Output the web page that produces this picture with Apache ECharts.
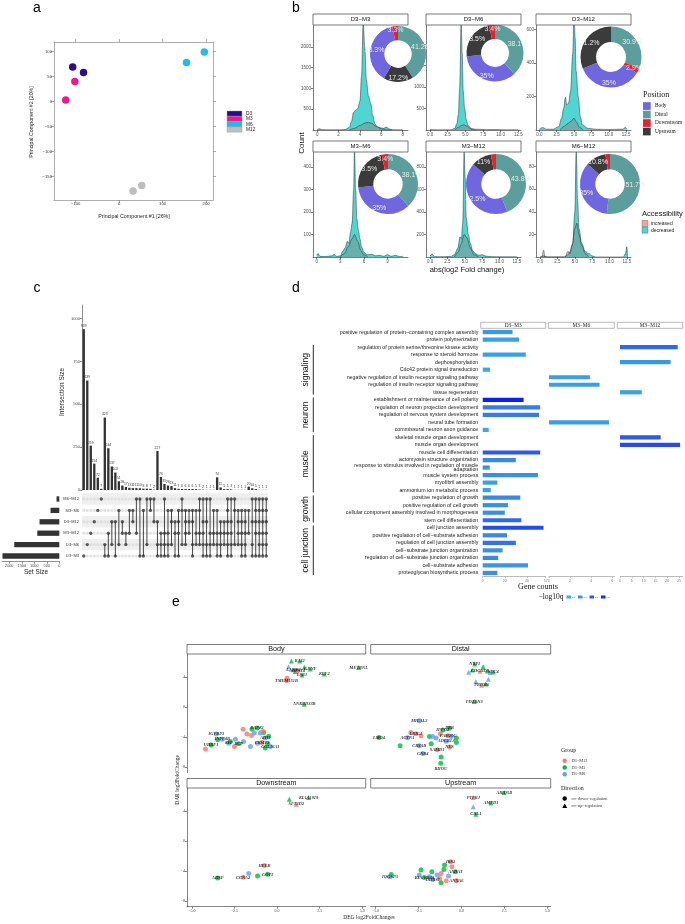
<!DOCTYPE html>
<html><head><meta charset="utf-8">
<script src="https://cdn.jsdelivr.net/npm/echarts@6/dist/echarts.min.js"></script>
<style>html,body{margin:0;padding:0;background:#fff}#c{width:685px;height:924px}</style>
</head><body><div id="c"></div>
<script>
// ================= DATA =================
// Panel a (PCA)
const pcaGroups=['D3','M3','M6','M12'];
const pcaPC1=[-107,-82,-102,-123,155,196,32,52];
const pcaPC2=[69,58,40,3,78,99,-179,-168];
const pcaGroupOf=['D3','D3','M3','M3','M6','M6','M12','M12'];

// Panel b (densities + donuts)
const densFacets=['D3−M3','D3−M6','D3−M12','M3−M6','M3−M12','M6−M12'];
const decD3M3=[[0,15],[0.2,30],[0.45,8],[1,4],[2,4],[2.6,10],[3.0,60],[3.2,200],[3.4,420],[3.6,480],[3.8,520],[4.0,700],[4.15,1300],[4.3,2600],[4.45,2000],[4.6,1200],[4.8,820],[5.0,650],[5.2,350],[5.4,150],[5.6,80],[5.9,55],[6.2,40],[6.5,70],[6.7,30],[7.0,8],[7.5,4],[8,2]];
const incD3M3=[[3.0,0],[3.5,40],[4.0,110],[4.5,170],[4.8,185],[5.1,160],[5.5,90],[6.0,30],[6.5,5],[7,0]];
const decD3M6=[[0,15],[0.3,8],[1,3],[2,3],[3,5],[3.5,40],[3.8,150],[4.0,350],[4.2,1000],[4.4,2500],[4.55,1800],[4.7,900],[4.9,500],[5.1,250],[5.4,100],[5.8,40],[6.3,20],[7,15],[8,8],[9,10],[10,5],[12,3],[12.5,8]];
const incD3M6=[[3.5,0],[4.0,60],[4.5,110],[4.8,120],[5.2,90],[5.6,40],[6.0,10],[6.5,0]];
const decD3M12=[[0,5],[0.5,15],[1,5],[2,5],[2.8,20],[3.2,70],[3.5,130],[3.75,195],[3.95,150],[4.2,160],[4.5,230],[4.8,450],[5.0,700],[5.15,550],[5.3,350],[5.6,200],[5.9,80],[6.2,30],[7,10],[8,5],[10,3],[12,5],[12.4,15],[12.6,3]];
const incD3M12=[[3.0,0],[3.5,20],[4.0,35],[4.5,50],[5.0,70],[5.3,50],[5.8,15],[6.3,0]];
const decM3M6=[[0,8],[0.2,15],[0.4,3],[1,2],[2.0,5],[2.2,12],[2.5,3],[3.0,5],[3.3,25],[3.6,40],[3.9,70],[4.1,60],[4.3,110],[4.5,150],[4.7,300],[4.8,480],[4.95,300],[5.1,170],[5.3,120],[5.5,80],[5.7,45],[6.0,20],[6.5,10],[7.0,12],[7.5,5],[8,8],[8.5,3],[9,10],[9.5,3],[10,8],[10.5,2],[11,3]];
const incM3M6=[[3.0,0],[3.5,15],[4.0,45],[4.5,80],[4.8,100],[5.2,70],[5.6,30],[6.0,10],[6.5,0]];
const decM3M12=[[0,10],[0.3,25],[0.6,5],[1,3],[2,3],[3,5],[3.5,20],[4.0,80],[4.3,180],[4.5,160],[4.7,300],[4.9,940],[5.05,700],[5.2,350],[5.5,200],[5.8,120],[6.1,60],[6.5,30],[7,15],[7.5,20],[8,8],[8.5,5],[9,3],[10,2],[12,2],[12.5,3]];
const incM3M12=[[3.5,0],[4.0,40],[4.5,120],[4.9,200],[5.3,170],[5.8,80],[6.3,20],[7,0]];
const decM6M12=[[0,0],[0.5,1],[1,0],[3.5,0],[4,2],[4.3,5],[4.7,12],[5.0,40],[5.2,95],[5.4,50],[5.6,25],[6.0,12],[6.5,5],[7.0,3],[7.5,1],[8,0],[12,0],[12.3,3],[12.5,9],[12.6,0]];
const incM6M12=[[0.3,0],[0.5,6],[0.7,0],[3.6,0],[4.0,5],[4.3,3],[4.6,10],[5.0,25],[5.3,30],[5.6,20],[6.0,10],[6.5,3],[7,0]];
const decList=[decD3M3,decD3M6,decD3M12,decM3M6,decM3M12,decM6M12];
const incList=[incD3M3,incD3M6,incD3M12,incM3M6,incM3M12,incM6M12];
const positions=['Body','Distal','Downstream','Upstream'];
const pieD3M3=[['Distal',41.2],['Upstream',17.2],['Body',38.3],['Downstream',3.3]];
const pieD3M6=[['Distal',38.1],['Body',35],['Upstream',23.5],['Downstream',3.4]];
const pieD3M12=[['Distal',30.9],['Downstream',2.9],['Body',35],['Upstream',31.2]];
const pieM3M6=[['Distal',38.1],['Body',35],['Upstream',23.5],['Downstream',3.4]];
const pieM3M12=[['Distal',43.8],['Body',42.5],['Upstream',11],['Downstream',2.7]];
const pieM6M12=[['Distal',51.7],['Body',35],['Upstream',10.8],['Downstream',2.5]];
const pieList=[pieD3M3,pieD3M6,pieD3M12,pieM3M6,pieM3M12,pieM6M12];

// Panel c (UpSet)
const setNames=['M6−M12','M3−M6','D3−M12','M3−M12','D3−M6','D3−M3'];
const setSizes=[110,350,790,880,1800,2270];
const setSizeTicks=[0,500,1000,1500,2000];
const interTicks=[0,250,500,750,1000];
const interSizes=[939,639,259,154,72,7,423,244,137,102,51,26,17,13,11,11,10,8,8,7,2,227,76,35,26,23,11,7,6,6,6,6,5,3,2,1,1,1,74,15,5,5,3,1,1,1,1,20,10,5,1,1,1];
const interSets=[[5],[4],[3],[2],[1],[0],[4,5],[3,5],[2,4],[2,5],[1,4],[2,3],[3,4],[1,3],[1,2],[0,3],[0,5],[1,5],[0,4],[0,1],[0,2],
 [2,4,5],[3,4,5],[0,3,4,5],[1,3,4,5],[1,2,4],[2,3,5],[1,2,3,5],[0,1,4],[1,2,3,4],[1,2,3],[1,2,4,5],[1,3,4],[0,1,3,4],[0,2,3,4,5],[0,2,4,5],[0,3,4,5],[1,3,4],
 [1,3,4,5],[2,3,4,5],[2,3,4],[0,1,2,3,4,5],[0,2,3,4,5],[0,1,4],[1,2,3,4],[1,2,3,4,5],[1,2,3,4,5],[1,3],[0,2,4,5],[0,1,2,3,5],[0,1,2,3,4,5],[0,1,2,3,4,5],[0,1,2,3,4,5]];

// Panel d (GO terms)
const goTerms=['positive regulation of protein−containing complex assembly','protein polymerization','regulation of protein serine/threonine kinase activity','response to steroid hormone','dephosphorylation','Cdc42 protein signal transduction','negative regulation of insulin receptor signaling pathway','regulation of insulin receptor signaling pathway','tissue regeneration','establishment or maintenance of cell polarity','regulation of neuron projection development','regulation of nervous system development','neural tube formation','commissural neuron axon guidance','skeletal muscle organ development','muscle organ development','muscle cell differentiation','actomyosin structure organization','response to stimulus involved in regulation of muscle\nadaptation','muscle system process','myofibril assembly','ammonium ion metabolic process','positive regulation of growth','positive regulation of cell growth','cellular component assembly involved in morphogenesis','stem cell differentiation','cell junction assembly','positive regulation of cell−substrate adhesion','regulation of cell junction assembly','cell−substrate junction organization','regulation of cell−substrate junction organization','cell−substrate adhesion','proteoglycan biosynthetic process'];
const goFacets=['D3−M3','M3−M6','M3−M12'];
const goD3M3=[27,33,null,39,null,6.7,null,null,null,37,52,51,null,5.5,null,null,52,30,6.4,50,13.3,7.3,34,23,20,35,55,22,30,18,14,41,13.3];
const qD3M3=[4.5,4,null,4,null,3.5,null,null,null,9.5,6,6,null,3.5,null,null,7.5,5.5,5,5,4,4,5.5,5,5,6.8,8,5.5,6.5,5,5.5,4.5,5];
const goM3M6=[null,null,null,null,null,null,3.9,4.8,null,null,null,null,5.7,null,null,null,null,null,null,null,null,null,null,null,null,null,null,null,null,null,null,null,null];
const qM3M6=[null,null,null,null,null,null,4,4,null,null,null,null,4.2,null,null,null,null,null,null,null,null,null,null,null,null,null,null,null,null,null,null,null,null];
const goM3M12=[null,null,24.4,null,21.4,null,null,null,9.2,null,null,null,null,null,17.2,25.4,null,null,null,null,null,null,null,null,null,null,null,null,null,null,null,null,null];
const qM3M12=[null,null,7,null,4.5,null,null,null,4,null,null,null,null,null,7.5,8,null,null,null,null,null,null,null,null,null,null,null,null,null,null,null,null,null];
const goGroups=[['signaling',2,8],['neuron',9,13],['muscle',14,21],['growth',22,25],['cell junction',26,32]];
const qLegend=[3.5,5.0,7.5,9.0];

// Panel e (DEG vs DAR) rows: [DEG log2FC, DAR log2FC, group(0=D3−M12,1=D3−M3,2=D3−M6), up(1)/down(0), label]
const eGroups=['D3−M12','D3−M3','D3−M6'];
const eBody=[
 [0.84,6.17,1,1,''],[1.33,6.17,1,1,'RAI2'],[0.68,5.4,2,1,''],[1.6,5.33,1,1,''],[0.97,5.0,2,1,'LAMB2'],[1.07,4.75,1,1,''],[1.17,4.84,0,0,'AGPAT4'],[1.46,4.3,1,1,'ESR1'],
 [1.95,5.1,1,1,'GDNF'],[2.77,4.44,1,1,'KLF2'],[4.79,5.28,1,1,'METRNL'],[0.59,3.87,0,0,''],[0.55,3.55,0,0,'TMEM151B'],[1.6,0.4,1,1,'ANKRD33B'],
 [-4.2,-5.6,0,0,''],[-3.87,-5.07,1,0,'UHRF1'],[-3.56,-3.6,2,0,'IGFBP3'],[-3.48,-4.36,1,0,''],[-3.22,-4.28,2,0,'INPP4B'],[-2.84,-4.82,2,0,'KIT'],[-2.74,-4.6,1,0,''],
 [-2.44,-4.28,2,0,''],[-2.5,-5.25,0,0,''],[-2.25,-4.9,1,0,'KCP'],[-1.96,-4.6,2,0,''],[-1.99,-2.95,0,0,''],[-1.76,-3.6,0,0,''],[-1.5,-3.8,0,0,''],
 [-1.47,-2.95,1,0,''],[-1.17,-2.8,1,0,'DAPK1'],[-1.33,-3.47,2,0,''],[-0.98,-3.47,2,0,''],[-0.78,-3.38,1,0,''],[-0.82,-3.24,0,0,''],[-0.69,-4.13,2,0,'AHI1'],
 [-0.49,-3.9,1,0,''],[-1.14,-4.82,2,0,''],[-0.88,-4.73,0,0,'CKMT2'],[-0.55,-4.9,1,0,''],[-0.39,-5.25,2,0,'COL16A1'],[-0.69,-5.47,1,0,''],[-1.56,-5.25,2,0,'']];
const eDistal=[
 [0.78,5.77,1,1,'NRP1'],[1.27,5.4,1,1,''],[0.43,4.65,2,1,''],[0.63,4.97,1,1,''],[1.08,4.8,0,1,'CHCHD3'],[1.51,4.84,1,1,''],[1.67,4.62,2,1,''],[1.86,4.71,1,1,'SDC4'],
 [0.84,3.42,2,1,''],[1.57,3.73,2,1,''],[1.41,3.1,1,1,''],[1.18,2.93,0,1,'PRDM6'],[0.75,0.75,1,1,'PDZRN3'],
 [-2.45,-1.83,2,0,'MICAL2'],[-4.8,-4.05,1,0,'LMO4'],[-2.94,-3.39,0,0,''],[-2.65,-3.57,0,0,'LRIG1'],[-2.35,-3.83,0,0,''],[-3.14,-4.1,2,0,'ACTN1'],[-3.57,-5.16,1,0,''],
 [-2.45,-5.16,2,0,'CRYAB'],[-1.86,-3.91,1,0,''],[-1.67,-3.91,2,0,''],[-1.76,-4.89,1,0,''],[-1.47,-4.13,2,0,''],[-1.22,-3.57,0,0,''],[-1.08,-3.04,1,0,'IFFO2'],
 [-0.78,-3.83,0,0,'FAM20C'],[-0.69,-2.81,1,0,'PRR'],[-0.59,-3.91,2,0,''],[-0.29,-4.13,1,0,''],[-0.88,-4.57,2,0,'ADGRL3'],[-0.69,-5.33,0,0,'NES'],[-0.29,-4.71,1,0,''],
 [-1.41,-5.69,0,0,'SAMD1'],[-1.18,-6.67,1,0,''],[-2.25,-6.2,2,0,'GNB4'],[-1.2,-7.5,1,0,'RHOU']];
const eDown=[
 [0.72,5.6,1,1,''],[1.85,5.82,1,1,'KIAA1919'],[1.13,4.93,0,1,'SFT2D2'],[-0.74,-3.24,0,0,'HELB'],[-1.66,-4.31,2,0,''],[-1.14,-4.67,1,0,''],[-0.55,-4.44,1,0,'GOT1'],
 [-1.99,-4.84,0,0,'CCNA2'],[-3.48,-4.93,1,0,'AHSP']];
const eUp=[
 [2.49,6.49,1,1,'ARID5B'],[0.69,5.82,0,1,'PTPRJ'],[1.72,5.1,1,1,'AMPD1'],[0.69,4.58,2,1,''],[0.84,3.6,1,1,'CHL1'],
 [-4.16,-4.76,2,0,'IQGAP3'],[-4.08,-4.45,1,0,''],[-2.35,-3.87,1,0,''],[-2.16,-4.85,1,0,'KIAA0930'],[-2.45,-4.53,2,0,''],[-1.86,-4.76,2,0,''],[-1.72,-4.09,1,0,''],
 [-1.67,-5.11,2,0,'DHRS7'],[-1.41,-4.53,2,0,''],[-1.27,-4.98,0,0,''],[-1.18,-4.31,0,0,''],[-1.02,-3.78,1,0,''],[-0.63,-2.76,0,0,'IRS2'],[-0.55,-3.42,0,0,''],
 [-0.35,-4.09,1,0,'AADAT'],[-0.88,-5.29,0,0,''],[-1.18,-5.56,1,0,''],[-0.29,-5.29,0,0,'ANXA6'],[-0.75,-4.67,2,0,''],[-0.98,-3.2,1,0,'']];
const ePanels=['Body','Distal','Downstream','Upstream'];
const eData=[eBody,eDistal,eDown,eUp];

// ================= STYLE / LAYOUT =================
const SANS='"Liberation Sans", Arial, sans-serif';
const SERIF='"Liberation Serif", "Times New Roman", serif';
const pcaColors={D3:'#2E0B8C',M3:'#EC1A8C',M6:'#1CBCEC',M12:'#BEBEBE'};
const posColors={Body:'#7066E0',Distal:'#5C9E9C',Downstream:'#E3232D',Upstream:'#3B3B3B'};
const eColors=['#F8766D','#00BA38','#619CFF'];
const MINUS=v=>String(v).replace('-','−');

const grids=[],xAxes=[],yAxes=[],series=[],graphics=[];
function isObj(o){return o!==null&&typeof o==='object'&&!Array.isArray(o);}
function merge(a,b){for(const k in b){const bv=b[k];if(isObj(bv)){if(!isObj(a[k]))a[k]={};merge(a[k],bv);}else a[k]=bv;}return a;}
function addGrid(r){grids.push(Object.assign({containLabel:false,outerBoundsMode:'none',show:false},r));return grids.length-1;}
function addX(o){xAxes.push(o);return xAxes.length-1;}
function addY(o){yAxes.push(o);return yAxes.length-1;}
function val(extra){return merge({type:'value',splitLine:{show:false},axisLine:{show:true,onZero:false,lineStyle:{color:'#222',width:0.6}},axisTick:{show:true,length:2,lineStyle:{color:'#222',width:0.6}},axisLabel:{fontSize:4.5,color:'#4d4d4d',fontFamily:SANS,margin:2}},extra||{});}
function ticks(arr,fmt){return {axisLabel:{customValues:arr,formatter:fmt||MINUS},axisTick:{customValues:arr}};}
function txt(x,y,s,font,o){o=o||{};graphics.push({type:'text',x:x,y:y,z:100,silent:true,rotation:o.rot||0,style:{text:s,font:font,fill:o.fill||'#000',align:o.align||'center',verticalAlign:o.va||'middle',lineHeight:o.lh}});}
function rect(x,y,w,h,fill,stroke,lw){graphics.push({type:'rect',z:90,silent:true,shape:{x:x,y:y,width:w,height:h},style:{fill:fill,stroke:stroke,lineWidth:lw==null?0.7:lw}});}
function line(x1,y1,x2,y2,c,w){graphics.push({type:'line',z:90,silent:true,shape:{x1:x1,y1:y1,x2:x2,y2:y2},style:{stroke:c||'#000',lineWidth:w||1}});}

// panel letters
txt(37,8,'a','14px '+SANS);txt(296,8,'b','14px '+SANS);txt(37,288,'c','14px '+SANS);txt(296,288,'d','14px '+SANS);txt(176,602,'e','14px '+SANS);

// ---------- Panel a ----------
(function(){
 const g=addGrid({left:54,top:42,width:159,height:158});
 const ac=()=>({axisLine:{lineStyle:{color:'#777'}},axisTick:{length:3,lineStyle:{color:'#777'}},axisLabel:{fontSize:4.2,color:'#333'}});
 const xt=[-100,0,100,200],yt=[-150,-100,-50,0,50,100];
 const xi=addX(val(merge(merge({gridIndex:g,min:-150,max:216},ac()),ticks(xt))));
 addX(val(merge(merge({gridIndex:g,min:-150,max:216,position:'top'},ac()),merge(ticks(xt),{axisLabel:{show:false}}))));
 const yi=addY(val(merge(merge({gridIndex:g,min:-197,max:119,position:'left'},ac()),ticks(yt))));
 addY(val(merge(merge({gridIndex:g,min:-197,max:119,position:'right'},ac()),merge(ticks(yt),{axisLabel:{show:false}}))));
 pcaGroups.forEach(gr=>{
  series.push({type:'scatter',xAxisIndex:xi,yAxisIndex:yi,symbolSize:7.5,itemStyle:{color:pcaColors[gr],opacity:1},
   data:pcaPC1.map((x,i)=>[x,pcaPC2[i],pcaGroupOf[i]]).filter(d=>d[2]===gr).map(d=>[d[0],d[1]])});
 });
 txt(134,217,'Principal Component #1 [26%]','5.3px '+SANS,{fill:'#222'});
 txt(32,122,'Principal Component #2 [20%]','5.3px '+SANS,{fill:'#222',rot:Math.PI/2});
 pcaGroups.forEach((gr,i)=>{rect(227,111+i*5.3,15,5.3,pcaColors[gr],'#999',0.4);txt(246,113.6+i*5.3,gr,'4.8px '+SANS,{align:'left',fill:'#222'});});
})();

// ---------- Panel b ----------
const bLayout=[
 {left:313,top:25,xmin:-0.4,xmax:8.5,xt:[0,2,4,6,8],d:0,ymax:2530,yt:[500,1000,1500,2000],pie:[398,54,28]},
 {left:426,top:25,xmin:-0.57,xmax:12.87,xt:[0,2.5,5,7.5,10,12.5],d:1,ymax:2450,yt:[500,1000,1500,2000],pie:[495,53,28.5]},
 {left:536,top:25,xmin:-0.48,xmax:13.2,xt:[0,2.5,5,7.5,10,12.5],d:1,ymax:626,yt:[200,400,600],pie:[611,57,30.5]},
 {left:313,top:152,xmin:-0.47,xmax:11.6,xt:[0,3,6,9],d:0,ymax:466,yt:[100,200,300,400],pie:[388,184,30]},
 {left:426,top:152,xmin:-0.6,xmax:13.1,xt:[0,2.5,5,7.5,10,12.5],d:1,ymax:933,yt:[200,400,600,800],pie:[496,184,30]},
 {left:536,top:152,xmin:-0.6,xmax:13.1,xt:[0,2.5,5,7.5,10,12.5],d:1,ymax:93,yt:[20,40,60,80],pie:[610,184,30]}];
bLayout.forEach((L,i)=>{
 const g=addGrid({left:L.left,top:L.top,width:95,height:105});
 const xi=addX(val(merge({gridIndex:g,min:L.xmin,max:L.xmax},ticks(L.xt,v=>MINUS(Number(v).toFixed(L.d))))));
 const yi=addY(val(merge({gridIndex:g,min:0,max:L.ymax},ticks(L.yt))));
 series.push({type:'line',xAxisIndex:xi,yAxisIndex:yi,data:decList[i],smooth:0.35,smoothMonotone:'x',symbol:'none',clip:true,
  lineStyle:{color:'#2a2a2a',width:0.5},areaStyle:{color:'#4FD6D3',opacity:1},z:2});
 series.push({type:'line',xAxisIndex:xi,yAxisIndex:yi,data:incList[i],smooth:0.35,smoothMonotone:'x',symbol:'none',clip:true,
  lineStyle:{color:'#2a2a2a',width:0.5},areaStyle:{color:'rgba(160,95,90,0.45)'},z:3});
 rect(L.left,L.top-11,95,11,'#fff','#555',0.8);
 txt(L.left+47.5,L.top-5.5,densFacets[i],'6px '+SANS,{fill:'#111'});
 series.push({type:'pie',center:[L.pie[0],L.pie[1]],radius:[L.pie[2]*0.49,L.pie[2]],startAngle:90,clockwise:true,silent:true,z:5,
  label:{show:true,position:'inside',formatter:'{c}%',color:'#eaeaea',fontSize:7,fontFamily:SANS},labelLine:{show:false},
  itemStyle:{borderWidth:0},
  data:pieList[i].map(d=>({name:d[0],value:d[1],itemStyle:{color:posColors[d[0]]}}))});
});
txt(302,143,'Count','8px '+SANS,{rot:Math.PI/2,fill:'#111'});
txt(467,270,'abs(log2 Fold change)','7.5px '+SANS,{fill:'#111'});
txt(643,95,'Position','8px '+SERIF,{align:'left',fill:'#111'});
positions.forEach((p,i)=>{rect(643,102.2+i*8.5,7.7,7.7,posColors[p],null,0);txt(655,106+i*8.5,p,'5.3px '+SERIF,{align:'left',fill:'#111'});});
txt(642,214,'Accessibility','7.5px '+SANS,{align:'left',fill:'#111'});
rect(642,220.5,6,6,'#F4A39D','#555',0.4);txt(651,223.5,'increased','5px '+SANS,{align:'left',fill:'#222'});
rect(642,227.2,6,6,'#4FD6D3','#555',0.4);txt(651,230.2,'decreased','5px '+SANS,{align:'left',fill:'#222'});

// ---------- Panel c (UpSet) ----------
(function(){
 const cats=interSizes.map((_,i)=>String(i));
 const g1=addGrid({left:82,top:305,width:186,height:185});
 const x1=addX({type:'category',gridIndex:g1,data:cats,show:false});
 const y1=addY(val(merge({gridIndex:g1,min:0,max:1080,axisLabel:{fontSize:4,color:'#444'},axisLine:{lineStyle:{color:'#444'}},axisTick:{lineStyle:{color:'#444'}}},ticks(interTicks))));
 series.push({type:'bar',xAxisIndex:x1,yAxisIndex:y1,data:interSizes,barWidth:'66%',itemStyle:{color:'#333'},
  label:{show:true,position:'top',distance:1.5,fontSize:3.4,color:'#333',fontFamily:SANS}});
 const g2=addGrid({left:82,top:493.3,width:186,height:68.4});
 const x2=addX({type:'category',gridIndex:g2,data:cats,show:false});
 const y2=addY({type:'category',gridIndex:g2,data:setNames,inverse:true,axisLine:{show:false},axisTick:{show:false},
  axisLabel:{fontSize:4,color:'#333',fontFamily:SANS,margin:3},splitArea:{show:true,areaStyle:{color:['rgba(225,225,225,0.55)','rgba(255,255,255,0)']}}});
 const bg=[],fg=[],con=[];
 interSets.forEach((s,c)=>{for(let r=0;r<setNames.length;r++){(s.indexOf(r)>=0?fg:bg).push([c,r]);}
  con.push([c,Math.min.apply(null,s),Math.max.apply(null,s)]);});
 series.push({type:'scatter',xAxisIndex:x2,yAxisIndex:y2,data:bg,symbolSize:3.2,itemStyle:{color:'#dcdcdc'},silent:true});
 series.push({type:'custom',xAxisIndex:x2,yAxisIndex:y2,data:con,encode:{x:0,y:[1,2]},silent:true,z:3,
  renderItem:function(p,api){const a=api.coord([api.value(0),api.value(1)]),b=api.coord([api.value(0),api.value(2)]);
   return {type:'line',shape:{x1:a[0],y1:a[1],x2:b[0],y2:b[1]},style:{stroke:'#333',lineWidth:0.9}};}});
 series.push({type:'scatter',xAxisIndex:x2,yAxisIndex:y2,data:fg,symbolSize:3.4,itemStyle:{color:'#333'},silent:true,z:4});
 const g3=addGrid({left:2,top:493.3,width:57.3,height:68.4});
 const x3=addX(val(merge({gridIndex:g3,min:0,max:2290,inverse:true,axisLabel:{fontSize:3.8,color:'#444'},axisLine:{lineStyle:{color:'#444'}},axisTick:{lineStyle:{color:'#444'}}},ticks(setSizeTicks))));
 const y3=addY({type:'category',gridIndex:g3,data:setNames,inverse:true,show:false});
 series.push({type:'bar',xAxisIndex:x3,yAxisIndex:y3,data:setSizes,barWidth:5.3,itemStyle:{color:'#333'}});
 txt(62,392,'Intersection Size','6.5px '+SANS,{rot:Math.PI/2,fill:'#222'});
 txt(36,572,'Set Size','6.5px '+SANS,{fill:'#222'});
})();

// ---------- Panel d (GO) ----------
function qColor(q){const st=[[3.5,[59,168,224]],[5.5,[56,136,228]],[7.5,[44,90,236]],[9.5,[10,30,245]]];
 if(q<=st[0][0])return 'rgb('+st[0][1]+')';for(let i=1;i<st.length;i++){if(q<=st[i][0]){const t=(q-st[i-1][0])/(st[i][0]-st[i-1][0]);
 const c=st[i-1][1].map((v,k)=>Math.round(v+(st[i][1][k]-v)*t));return 'rgb('+c+')';}}return 'rgb('+st[st.length-1][1]+')';}
(function(){
 const dL=[{left:482.7,width:63,max:57,interval:20,strip:[480.7,65]},{left:549,width:65.3,max:6.2,interval:2,strip:[548.3,66]},{left:620,width:62.7,max:26.5,interval:5,strip:[617.3,65.4]}];
 const vals=[goD3M3,goM3M6,goM3M12],qs=[qD3M3,qM3M6,qM3M12];
 dL.forEach((L,k)=>{
  const g=addGrid({left:L.left,top:328.3,width:L.width,height:248.4});
  const xi=addX(val({gridIndex:g,min:0,max:L.max,interval:L.interval,axisLabel:{fontSize:3.5,color:'#777',margin:2},axisLine:{lineStyle:{color:'#aaa',width:0.8}},axisTick:{length:1.5,lineStyle:{color:'#aaa'}}}));
  const yi=addY({type:'category',gridIndex:g,data:goTerms,inverse:true,axisLine:{show:false},axisTick:{show:false},
   axisLabel:{show:k===0,fontSize:5.3,color:'#1a1a1a',fontFamily:SANS,margin:4.4,lineHeight:4.6,interval:0}});
  series.push({type:'bar',xAxisIndex:xi,yAxisIndex:yi,barWidth:4.2,
   data:vals[k].map((v,i)=>v==null?'-':{value:v,itemStyle:{color:qColor(qs[k][i])}})});
  rect(L.strip[0],322.3,L.strip[1],6,'#fff','#888',0.6);
  txt(L.strip[0]+L.strip[1]/2,325.4,goFacets[k],'5.3px '+SERIF,{fill:'#222'});
 });
 goGroups.forEach(gg=>{
  const yTop=328.3+gg[1]*7.527+1.5,yBot=328.3+(gg[2]+1)*7.527-1.5;
  line(313.3,yTop,313.3,yBot,'#111',0.9);
  txt(306,(yTop+yBot)/2,gg[0],'8.5px '+SANS,{rot:Math.PI/2,fill:'#111'});
 });
 txt(538,587,'Gene counts','8px '+SERIF,{fill:'#111'});
 txt(551,597,'−log10q','7.5px '+SERIF,{fill:'#111'});
 qLegend.forEach((q,i)=>{rect(566.5+i*11.5,595.5,4.5,3,qColor(q),null,0);txt(572+i*11.5,597,q.toFixed(1),'2.4px '+SANS,{align:'left',fill:'#555'});});
})();

// ---------- Panel e ----------
(function(){
 const eL=[{left:187,top:654,w:178.7,showX:false,showY:true},{left:370.7,top:654,w:180,showX:false,showY:false},
           {left:187,top:788,w:178.7,showX:true,showY:true},{left:370.7,top:788,w:180,showX:true,showY:false}];
 eL.forEach((L,k)=>{
  const g=addGrid({left:L.left,top:L.top,width:L.w,height:118.7});
  const xi=addX(val(merge({gridIndex:g,min:-5.28,max:5.2,axisLine:{show:L.showX,lineStyle:{color:'#333'}},axisTick:{show:L.showX,lineStyle:{color:'#333'}},
    axisLabel:{show:L.showX,fontSize:4,color:'#444',fontFamily:SERIF}},ticks([-5,-2.5,0,2.5,5],v=>MINUS(Number(v).toFixed(1))))));
  const yi=addY(val(merge({gridIndex:g,min:-8.76,max:7.1,axisLine:{show:L.showY,lineStyle:{color:'#333'}},axisTick:{show:L.showY,lineStyle:{color:'#333'}},
    axisLabel:{show:L.showY,fontSize:4,color:'#444',fontFamily:SERIF}},ticks([-8,-4,0,4]))));
  series.push({type:'scatter',xAxisIndex:xi,yAxisIndex:yi,symbolSize:5,
   data:eData[k].map(r=>({value:[r[0],r[1],r[2],r[3]],name:r[4],symbol:r[3]?'triangle':'circle',itemStyle:{color:eColors[r[2]]},
    label:{show:!!r[4],position:r[4]==='RHOU'?'bottom':'inside',distance:1}})),
   label:{formatter:p=>p.name,fontSize:4.4,fontStyle:'italic',fontWeight:'bold',fontFamily:SERIF,color:'#000'}});
  rect(L.left,L.top-9.5,L.w,9.5,'#fff','#444',0.7);
  txt(L.left+L.w/2,L.top-4.6,ePanels[k],'7.2px '+SANS,{fill:'#111'});
 });
 txt(178,780,'DAR log2FoldChange','5.5px '+SERIF,{rot:Math.PI/2,fill:'#222'});
 txt(369,918,'DEG log2FoldChanges','5.5px '+SERIF,{fill:'#222'});
 txt(561,750,'Group','6px '+SERIF,{align:'left',fill:'#222'});
 eGroups.forEach((gname,i)=>{graphics.push({type:'circle',z:95,silent:true,shape:{cx:564.7,cy:760.7+i*6.8,r:2.2},style:{fill:eColors[i]}});
  txt(571.5,760.7+i*6.8,gname,'4.3px '+SERIF,{align:'left',fill:'#333'});});
 txt(561,788,'Direction','6px '+SERIF,{align:'left',fill:'#222'});
 graphics.push({type:'circle',z:95,silent:true,shape:{cx:564.7,cy:798.5,r:2.2},style:{fill:'#000'}});
 graphics.push({type:'polygon',z:95,silent:true,shape:{points:[[564.7,803.5],[567.2,808],[562.2,808]]},style:{fill:'#000'}});
 txt(571.5,798.5,'co−down−regulation','4.3px '+SERIF,{align:'left',fill:'#333'});
 txt(571.5,806,'co−up−regulation','4.3px '+SERIF,{align:'left',fill:'#333'});
})();

const chart=echarts.init(document.getElementById('c'),null,{renderer:'canvas',width:685,height:924});
chart.setOption({animation:false,backgroundColor:'#fff',grid:grids,xAxis:xAxes,yAxis:yAxes,series:series,graphic:graphics});
</script></body></html>
